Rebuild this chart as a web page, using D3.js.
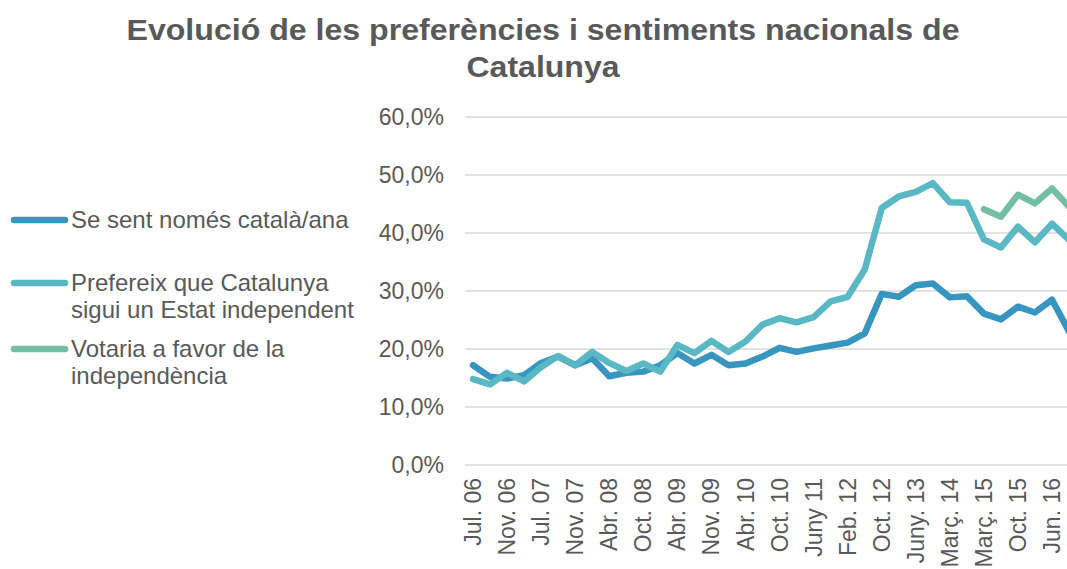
<html>
<head>
<meta charset="utf-8">
<script src="https://cdnjs.cloudflare.com/ajax/libs/d3/7.8.5/d3.min.js"></script>
<style>
  body { margin: 0; background: #fff; }
  text { font-family: "Liberation Sans", Arial, sans-serif; fill: #595959; }
</style>
</head>
<body>
<svg width="1067" height="569"></svg>
<script>
// barometer waves (only every other one is labelled on the axis)
var waves = ["Jul. 06","Oct. 06","Nov. 06","Març 07","Jul. 07","Oct. 07","Nov. 07","Feb. 08",
  "Abr. 08","Jul. 08","Oct. 08","Gen. 09","Abr. 09","Jul. 09","Nov. 09","Gen. 10",
  "Abr. 10","Jun. 10","Oct. 10","Feb. 11","Juny 11","Oct. 11","Feb. 12","Juny 12",
  "Oct. 12","Feb. 13","Juny. 13","Nov. 13","Març. 14","Oct. 14","Març. 15","Jul. 15",
  "Oct. 15","Març. 16","Jun. 16","Nov. 16"];

var nomesCatala = [17.2,15.2,14.9,15.5,17.6,18.7,17.2,18.4,15.3,15.9,16.1,17.2,
  19.3,17.5,19.0,17.2,17.5,18.7,20.2,19.5,20.1,20.6,21.1,22.7,
  29.5,29.0,31.0,31.3,28.9,29.1,26.1,25.1,27.3,26.3,28.5,23.0];

var estatIndependent = [14.8,13.9,15.9,14.4,16.9,18.8,17.2,19.5,17.6,16.2,17.5,16.1,
  20.7,19.3,21.4,19.5,21.3,24.2,25.3,24.6,25.5,28.2,29.0,33.7,
  44.3,46.3,47.1,48.6,45.3,45.2,38.9,37.5,41.1,38.4,41.6,38.8];

var votaria = [null,null,null,null,null,null,null,null,null,null,null,null,
  null,null,null,null,null,null,null,null,null,null,null,null,
  null,null,null,null,null,null,44.1,42.8,46.6,45.1,47.7,44.5];

var yTicks = [0,10,20,30,40,50,60];

var series = [
  {name: ["Se sent només català/ana"], values: nomesCatala, color: "#3795bf", ly: 220},
  {name: ["Prefereix que Catalunya","sigui un Estat independent"], values: estatIndependent, color: "#59b8c3", ly: 283},
  {name: ["Votaria a favor de la","independència"], values: votaria, color: "#73bea4", ly: 349}
];

var svg = d3.select("svg");
svg.append("rect").attr("width",1067).attr("height",569).attr("fill","#fff");

var x = d3.scaleBand().domain(waves).range([464.5, 464.5 + 36*17.03]);
var y = d3.scaleLinear().domain([0,60]).range([465,117]);
var cx = function(i){ return x(waves[i]) + x.bandwidth()/2; };

var ca = d3.formatLocale({decimal: ",", thousands: ".", grouping: [3], currency: ["","€"]});
var fmt = ca.format(".1f");

/*title*/
var title = svg.append("text")
  .attr("text-anchor","middle")
  .style("font-size","30px")
  .style("font-weight","bold");
title.append("tspan").attr("x",543).attr("y",40)
  .attr("textLength",833).attr("lengthAdjust","spacingAndGlyphs")
  .text("Evolució de les preferències i sentiments nacionals de");
title.append("tspan").attr("x",543).attr("y",77)
  .attr("textLength",153).attr("lengthAdjust","spacingAndGlyphs")
  .text("Catalunya");

/*gridlines + y labels*/
svg.append("g").selectAll("line").data(yTicks).enter().append("line")
  .attr("x1",465).attr("x2",1080)
  .attr("y1",function(d){ return y(d); }).attr("y2",function(d){ return y(d); })
  .attr("stroke","#d9d9d9").attr("stroke-width",1.5);

svg.append("g").selectAll("text").data(yTicks).enter().append("text")
  .attr("x",444).attr("y",function(d){ return y(d); }).attr("dy","0.35em")
  .attr("text-anchor","end").style("font-size","23px")
  .text(function(d){ return fmt(d) + "%"; });

/*x labels, every other wave*/
svg.append("g").selectAll("text")
  .data(waves.map(function(d,i){ return {t:d,i:i}; }).filter(function(d){ return d.i % 2 == 0; }))
  .enter().append("text")
  .attr("transform",function(d){ return "translate(" + cx(d.i) + ",478) rotate(-90)"; })
  .attr("dy","0.35em").attr("text-anchor","end").style("font-size","23px")
  .text(function(d){ return d.t; });

/*lines*/
var line = d3.line()
  .defined(function(d){ return d != null; })
  .x(function(d,i){ return cx(i); })
  .y(function(d){ return y(d); });

svg.append("g").selectAll("path").data(series).enter().append("path")
  .attr("d",function(s){ return line(s.values); })
  .attr("fill","none").attr("stroke",function(s){ return s.color; })
  .attr("stroke-width",6.5).attr("stroke-linejoin","round").attr("stroke-linecap","round");

/*legend*/
var lg = svg.append("g").selectAll("g").data(series).enter().append("g");
lg.append("line").attr("x1",14).attr("x2",65)
  .attr("y1",function(s){ return s.ly; }).attr("y2",function(s){ return s.ly; })
  .attr("stroke",function(s){ return s.color; }).attr("stroke-width",6.5).attr("stroke-linecap","round");
lg.each(function(s){
  var t = d3.select(this).append("text").style("font-size","24px");
  s.name.forEach(function(n,k){
    t.append("tspan").attr("x",71).attr("y",s.ly + 8 + k*27).text(n);
  });
});
</script>
</body>
</html>
